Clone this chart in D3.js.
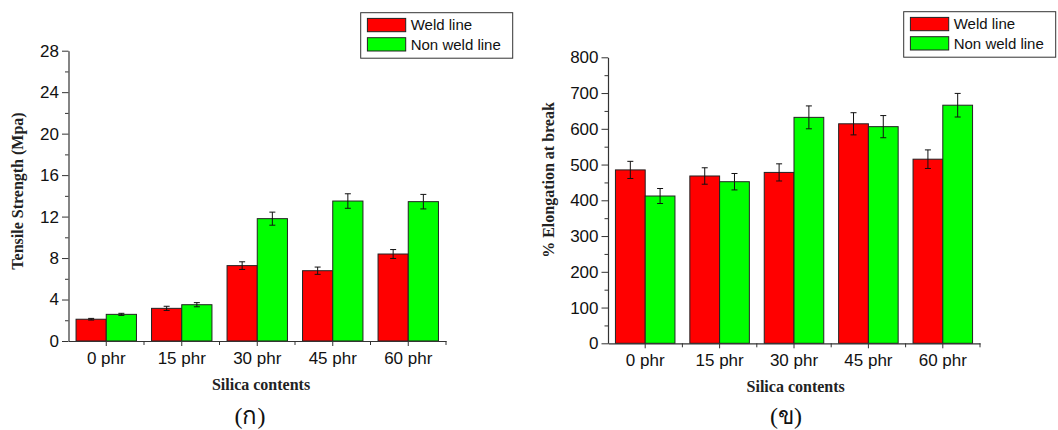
<!DOCTYPE html>
<html>
<head>
<meta charset="utf-8">
<script src="https://cdn.jsdelivr.net/npm/d3@7"></script>
<style>
  body { margin: 0; background: #fff; }
  svg { display: block; }
</style>
</head>
<body>
<svg id="chart" width="1058" height="430"></svg>
<script>
// data
const categories = ["0 phr", "15 phr", "30 phr", "45 phr", "60 phr"];
const seriesNames = ["Weld line", "Non weld line"];
const seriesColors = ["#ff0000", "#00ff00"];

const tensileWeld = [2.1, 3.15, 7.27, 6.78, 8.39];
const tensileWeldErr = [0.08, 0.2, 0.37, 0.35, 0.43];
const tensileNon = [2.57, 3.5, 11.8, 13.5, 13.44];
const tensileNonErr = [0.1, 0.2, 0.63, 0.7, 0.7];
const tensileTicks = [0, 4, 8, 12, 16, 20, 24, 28];
const tensileMinor = [2, 6, 10, 14, 18, 22, 26];

const elongWeld = [485, 468, 478, 614, 515];
const elongWeldErr = [24, 23, 24, 31, 26];
const elongNon = [412, 452, 632, 606, 666];
const elongNonErr = [21, 23, 32, 31, 33];
const elongTicks = [0, 100, 200, 300, 400, 500, 600, 700, 800];
const elongMinor = [50, 150, 250, 350, 450, 550, 650, 750];

const svg = d3.select("#chart");
const axisColor = "#333";

function drawPanel(opt) {
    const g = svg.append("g");

    const x = d3.scaleBand()
        .domain(categories)
        .range([opt.left, opt.right])
        .paddingInner(0.2)
        .paddingOuter(0.1);
    const xs = d3.scaleBand()
        .domain(seriesNames)
        .range([0, x.bandwidth()]);
    const y = d3.scaleLinear()
        .domain([0, opt.max])
        .range([opt.bottom, opt.top]);

    const rows = categories.map((c, i) => ({
        cat: c,
        vals: [
            { s: seriesNames[0], v: opt.a[i], e: opt.aErr[i] },
            { s: seriesNames[1], v: opt.b[i], e: opt.bErr[i] }
        ]
    }));

    // bars
    const grp = g.selectAll(".grp")
        .data(rows)
        .enter()
        .append("g")
        .attr("transform", d => "translate(" + x(d.cat) + ",0)");

    grp.selectAll("rect")
        .data(d => d.vals)
        .enter()
        .append("rect")
        .attr("x", d => xs(d.s))
        .attr("y", d => y(d.v))
        .attr("width", xs.bandwidth())
        .attr("height", d => y(0) - y(d.v))
        .attr("fill", (d, i) => seriesColors[i])
        .attr("stroke", "#222")
        .attr("stroke-width", 1);

    // error bars
    const eb = grp.selectAll(".eb")
        .data(d => d.vals)
        .enter()
        .append("g")
        .attr("stroke", "#111")
        .attr("stroke-width", 1);
    eb.append("line")
        .attr("x1", d => xs(d.s) + xs.bandwidth() / 2)
        .attr("x2", d => xs(d.s) + xs.bandwidth() / 2)
        .attr("y1", d => y(d.v - d.e))
        .attr("y2", d => y(d.v + d.e));
    [1, -1].forEach(sign => {
        eb.append("line")
            .attr("x1", d => xs(d.s) + xs.bandwidth() / 2 - 3)
            .attr("x2", d => xs(d.s) + xs.bandwidth() / 2 + 3)
            .attr("y1", d => y(d.v + sign * d.e))
            .attr("y2", d => y(d.v + sign * d.e));
    });

    // y axis
    const yAxis = g.append("g")
        .attr("transform", "translate(" + opt.left + ",0)")
        .call(d3.axisLeft(y).tickValues(opt.ticks).tickSize(6.5).tickSizeOuter(0).tickPadding(3));
    yAxis.selectAll("text")
        .style("font-family", "'Liberation Sans', Arial, sans-serif")
        .style("font-size", "17px")
        .attr("fill", "#111");
    g.append("g")
        .attr("transform", "translate(" + opt.left + ",0)")
        .call(d3.axisLeft(y).tickValues(opt.minor).tickSize(3.5).tickSizeOuter(0).tickFormat(""))
        .select(".domain").remove();

    // x axis: ticks at category centres and boundaries
    const xAxis = g.append("g")
        .attr("transform", "translate(0," + opt.bottom + ")")
        .call(d3.axisBottom(x).tickSize(5).tickSizeOuter(0).tickPadding(6));
    xAxis.selectAll("text")
        .style("font-family", "'Liberation Sans', Arial, sans-serif")
        .style("font-size", "17px")
        .attr("fill", "#111");
    const bounds = categories.map(c => x(c) - x.step() * x.paddingInner() / 2).slice(1);
    bounds.push(opt.right);
    xAxis.selectAll(".bnd")
        .data(bounds)
        .enter()
        .append("line")
        .attr("x1", d => d).attr("x2", d => d)
        .attr("y1", 0).attr("y2", 4)
        .attr("stroke", axisColor);

    g.selectAll(".domain").attr("stroke", axisColor).attr("stroke-width", 1.2);
    g.selectAll(".tick line").attr("stroke", axisColor);

    // axis titles
    g.append("text")
        .attr("transform", "translate(" + opt.yTitleX + "," + opt.yTitleY + ") rotate(-90)")
        .attr("text-anchor", "middle")
        .style("font-family", "'Liberation Serif', 'Times New Roman', serif")
        .style("font-weight", "bold")
        .style("font-size", "16px")
        .attr("fill", "#222")
        .text(opt.yTitle);
    g.append("text")
        .attr("x", opt.xTitleX)
        .attr("y", opt.bottom + 49)
        .attr("text-anchor", "middle")
        .style("font-family", "'Liberation Serif', 'Times New Roman', serif")
        .style("font-weight", "bold")
        .style("font-size", "16px")
        .attr("fill", "#222")
        .text("Silica contents");

    // caption
    g.append("text")
        .attr("x", opt.capX)
        .attr("y", 424)
        .attr("text-anchor", "middle")
        .style("font-family", "'Liberation Serif', 'DejaVu Serif', 'Noto Sans', serif")
        .style("font-size", "24px")
        .attr("fill", "#111")
        .text(opt.caption);

    // legend
    const lg = g.append("g").attr("transform", "translate(" + opt.legX + "," + opt.legY + ")");
    lg.append("rect")
        .attr("width", 152).attr("height", 45.5)
        .attr("fill", "#fff")
        .attr("stroke", "#333").attr("stroke-width", 1);
    seriesNames.forEach((s, i) => {
        lg.append("rect")
            .attr("x", 6.7).attr("y", 5.7 + i * 19.3)
            .attr("width", 38.3).attr("height", 13.3)
            .attr("fill", seriesColors[i])
            .attr("stroke", "#222");
        lg.append("text")
            .attr("x", 50).attr("y", 17.6 + i * 19.3)
            .style("font-family", "'Liberation Sans', Arial, sans-serif")
            .style("font-size", "15px")
            .attr("fill", "#111")
            .text(s);
    });
}

drawPanel({
    left: 68.5, right: 446, top: 50.7, bottom: 341,
    max: 28, ticks: tensileTicks, minor: tensileMinor,
    a: tensileWeld, aErr: tensileWeldErr, b: tensileNon, bErr: tensileNonErr,
    yTitle: "Tensile Strength (Mpa)", yTitleX: 23, yTitleY: 191,
    xTitleX: 261, caption: "(ก)", capX: 250,
    legX: 360.7, legY: 12.7
});

drawPanel({
    left: 608, right: 980, top: 57.3, bottom: 343.3,
    max: 800, ticks: elongTicks, minor: elongMinor,
    a: elongWeld, aErr: elongWeldErr, b: elongNon, bErr: elongNonErr,
    yTitle: "% Elongation at break", yTitleX: 554, yTitleY: 180,
    xTitleX: 795.7, caption: "(ข)", capX: 786,
    legX: 903.7, legY: 11.7
});
</script>
</body>
</html>
